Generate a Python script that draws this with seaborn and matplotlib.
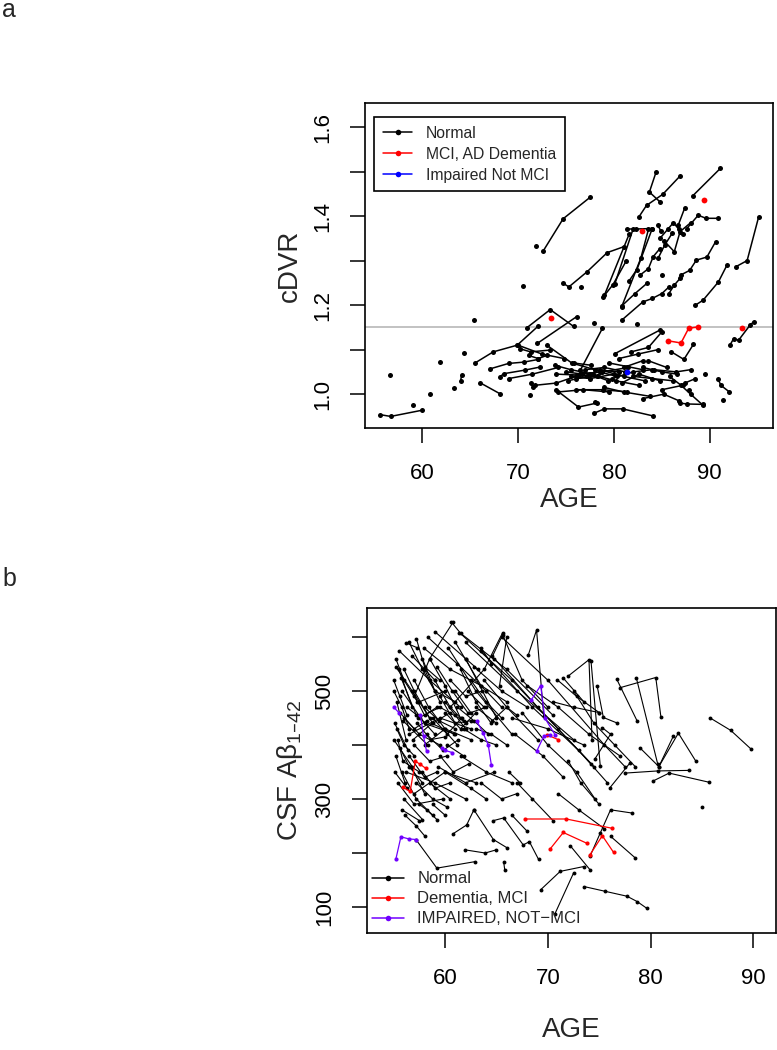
import matplotlib
matplotlib.use('Agg')
import matplotlib.pyplot as plt
from matplotlib.lines import Line2D
import seaborn as sns
import pandas as pd

# ---- panel a : cDVR by age, one list per subject ----
a_norm_age = [
    [72.6, 74.7, 77.5], [71.9], [84.4, 83.7, 84.8], [82.6, 83.4, 85.1, 86.9],
    [88.2, 91.1], [86.7, 87.4], [87.6, 88.8, 89.6, 90.9], [81.4, 82.3, 84.0],
    [84.6, 84.9], [80.1, 82.0], [79.0, 81.6], [80.8, 82.8, 83.6],
    [84.0, 82.4, 81.6], [84.8, 85.6, 86.2, 86.8, 87.2], [85.2, 86.3, 86.9, 88.0],
    [84.6, 85.3, 86.1], [85.0], [82.7, 83.6, 84.1, 84.8], [80.8, 82.2, 83.5],
    [80.8, 83.0, 84.0, 85.0, 85.7], [85.7, 86.3, 86.9], [88.5, 89.3, 90.9, 91.8],
    [92.7, 93.9, 95.1], [87.0, 87.9, 88.6, 89.7, 90.6], [74.7, 75.3, 77.2, 79.3, 81.0],
    [76.6], [78.9, 79.9, 81.3], [82.4], [92.1, 92.5, 93.0, 94.2, 94.6], [70.5],
    [65.4], [70.9, 73.35, 75.8], [65.5, 67.4, 69.9, 72.1], [72.0, 76.1], [77.9],
    [78.8, 76.5], [84.8, 80.1], [86.0, 87.3, 88.3], [55.6, 56.7, 60.0], [59.0],
    [56.6], [60.8], [61.8], [63.3], [64.3], [64.1, 64.0], [66.0, 68.1],
    [67.1, 69.0, 70.6, 72.1], [68.1, 68.5, 70.7, 72.3], [70.2, 71.3, 73.3],
    [71.1, 72.1, 73.0], [71.3, 71.6], [71.2], [74.0, 76.3, 78.2], [74.0, 76.2, 78.3],
    [89.5], [90.9, 91.15, 92.05], [91.4], [87.8], [87.4, 88.5], [86.9, 87.6, 89.3],
    [77.9, 79.0, 80.9, 84.1], [78.0], [73.8, 75.5, 77.8], [75.0, 76.7, 78.5, 80.3],
    [76.0, 78.2, 79.4], [77.0, 79.0, 81.2], [79.5, 81.4, 83.0], [80.5, 82.5, 84.6],
    [81.8, 83.6, 85.0], [82.0, 84.0, 86.2], [83.0, 85.0, 86.6], [83.6, 85.5],
    [84.2, 86.5, 88.0], [79.0, 81.0, 83.8], [74.2, 76.8, 79.5], [76.0, 78.9, 81.4],
    [85.8, 87.0, 88.0, 89.3], [69.0, 71.5, 74.2], [70.0, 72.5, 74.8],
    [71.8, 74.0, 76.0], [73.0, 75.6, 78.0, 80.5], [77.5, 80.2, 82.6],
    [80.8, 82.6, 84.8], [85.0, 87.2], [83.0, 85.2, 86.8], [75.8, 77.6],
    [75.5, 77.5, 80.0], [76.5, 78.8, 81.5], [75.2, 77.2], [78.5, 81.0, 83.2],
    [81.0, 83.0], [79.8, 82.0, 84.0],
]
a_norm_cdvr = [
    [1.321, 1.394, 1.442], [1.333], [1.499, 1.454, 1.432], [1.398, 1.424, 1.449, 1.490],
    [1.445, 1.507], [1.379, 1.419], [1.372, 1.402, 1.395, 1.395], [1.371, 1.371, 1.372],
    [1.379, 1.366], [1.248, 1.371], [1.222, 1.360], [1.196, 1.305, 1.370],
    [1.372, 1.280, 1.255], [1.350, 1.370, 1.385, 1.370, 1.360], [1.345, 1.320, 1.365, 1.385],
    [1.305, 1.335, 1.362], [1.267], [1.267, 1.282, 1.309, 1.327], [1.198, 1.226, 1.250],
    [1.166, 1.207, 1.215, 1.226, 1.240], [1.225, 1.245, 1.260], [1.200, 1.211, 1.252, 1.290],
    [1.286, 1.300, 1.398], [1.268, 1.278, 1.301, 1.308, 1.342], [1.249, 1.241, 1.275, 1.318, 1.331],
    [1.241], [1.219, 1.246, 1.300], [1.158], [1.110, 1.125, 1.121, 1.155, 1.163], [1.243],
    [1.166], [1.149, 1.190, 1.152], [1.070, 1.095, 1.110, 1.153], [1.114, 1.174], [1.160],
    [1.148, 1.054], [1.144, 1.091], [1.095, 1.078, 1.112], [0.954, 0.950, 0.964], [0.975],
    [1.042], [1.001], [1.072], [1.013], [1.093], [1.043, 1.030], [1.026, 1.001],
    [1.057, 1.069, 1.072, 1.078], [1.039, 1.046, 1.054, 1.061], [1.102, 1.095, 1.099],
    [1.087, 1.080, 1.087], [1.025, 1.015], [0.998], [1.009, 0.971, 0.980], [1.045, 1.043, 1.040],
    [1.046], [1.033, 1.020, 1.005], [0.988], [1.009], [1.025, 1.035], [0.980, 0.978, 0.977],
    [0.957, 0.967, 0.967, 0.951], [0.983], [1.065, 1.055, 1.045], [1.050, 1.045, 1.050, 1.040],
    [1.035, 1.040, 1.030], [1.055, 1.060, 1.050], [1.070, 1.062, 1.055], [1.080, 1.090, 1.100],
    [1.095, 1.105, 1.140], [1.040, 1.035, 1.030], [1.060, 1.050, 1.045], [1.075, 1.060],
    [1.055, 1.050, 1.055], [1.015, 1.005, 0.995], [1.005, 1.010, 1.005], [1.010, 1.010, 1.005],
    [1.040, 1.020, 1.000, 0.975], [1.035, 1.045, 1.060], [1.110, 1.090, 1.080],
    [1.020, 1.025, 1.040], [1.110, 1.070, 1.055, 1.050], [1.045, 1.030, 1.020],
    [1.025, 1.045, 1.030], [1.010, 1.020], [0.990, 1.000, 0.985], [1.070, 1.065],
    [1.040, 1.035, 1.045], [1.045, 1.050, 1.060], [1.030, 1.040], [1.055, 1.040, 1.030],
    [1.060, 1.075], [1.035, 1.050, 1.055],
]
a_mci_age = [[89.4], [82.9], [93.4], [85.6, 87.0, 87.8, 88.8], [73.4]]
a_mci_cdvr = [[1.436], [1.366], [1.148], [1.120, 1.115, 1.148, 1.151], [1.170]]
a_imp_age = [[81.4]]
a_imp_cdvr = [[1.049]]
cdvr_cut = 1.15

# ---- panel b : CSF Abeta 1-42 by age ----
b_norm_age = [
    [85.8, 87.8, 89.8], [85.0], [77.0, 80.5, 81.0], [76.7, 78.7], [78.6, 80.7],
    [72.0, 74.0, 74.3], [74.2, 75.1], [68.1, 68.9, 69.6], [74.8, 75.4, 76.7],
    [75.3, 76.1, 74.6], [79.0, 80.8, 82.2], [80.8, 82.7, 84.4], [77.5, 80.7, 83.7],
    [80.2, 81.8, 85.7], [78.0, 76.0], [78.2, 76.1, 75.1, 74.1], [72.2, 74.1],
    [73.5, 75.6, 77.7, 78.7, 79.6], [69.3, 71.2, 73.5], [72.5, 70.7], [76.1, 78.5],
    [70.9, 72.8, 75.0], [71.5, 73.5], [64.6, 65.6, 67.5, 70.0],
    [60.6, 61.5, 66.0, 70.5], [61.4, 66.5, 71.0, 74.5], [62.0, 67.0, 72.5],
    [63.5, 68.5, 73.0, 75.8], [64.8, 69.0, 74.2], [65.5, 70.0, 75.5, 77.5],
    [66.0, 65.3], [65.6, 63.8, 60.5], [60.8, 58.5, 57.0],
    [55.2, 56.0, 57.3], [55.5, 56.8], [55.0, 55.8, 56.5], [55.3, 56.2],
    [55.6, 57.0, 58.2], [55.1, 56.4], [55.4, 55.9, 57.5], [55.2, 56.1],
    [55.8, 57.2, 58.8], [56.0, 57.8], [56.5, 57.8, 59.0], [57.2, 58.0, 59.5],
    [56.2, 57.3], [57.0, 58.4, 60.0], [56.8, 58.0, 59.2], [57.5, 58.8, 60.5],
    [56.0, 57.5, 59.5], [57.8, 59.0, 61.0], [58.0, 59.5], [58.5, 60.0, 61.5],
    [59.0, 60.5, 62.0], [59.5, 61.0, 62.5], [60.0, 61.5, 63.0], [59.8, 61.2],
    [58.2, 59.8, 61.3], [57.0, 58.5, 60.2], [56.5, 58.0, 59.2], [57.8, 59.0, 60.5],
    [58.5, 60.5], [59.5, 60.8, 62.3], [61.0, 62.5, 64.0], [61.5, 63.0, 64.5],
    [62.5, 64.0, 65.5], [63.0, 65.0], [61.8, 63.5, 65.0], [62.0, 63.2], [63.5, 64.5],
    [60.2, 61.8], [58.8, 60.0], [57.5, 58.2, 59.2],
    [55.0, 55.6, 56.3], [55.3, 56.0, 57.0], [55.6, 56.5, 57.8], [55.1, 56.3],
    [56.0, 57.0, 58.5], [56.3, 57.6, 59.0], [57.3, 58.6, 60.0], [58.0, 59.4, 61.0],
    [58.8, 60.2, 61.6], [59.2, 60.7, 62.2], [60.5, 62.0, 63.6], [60.0, 61.0, 62.0],
    [61.2, 62.8, 64.2], [62.2, 63.8], [56.7, 58.0], [57.2, 58.8, 60.2], [55.8, 57.5],
    [56.1, 57.2, 58.0], [63.0, 64.5, 66.0], [64.0, 65.5],
    [55.5, 58.5, 61.5], [55.2, 57.5, 60.0], [55.8, 58.0, 61.0], [56.5, 59.5, 62.5],
    [55.9, 58.3], [56.2, 59.0, 62.0], [57.0, 60.0, 63.0], [55.4, 57.0, 59.8],
    [57.9, 60.5, 63.5], [58.3, 61.2, 64.0], [59.0, 62.0, 65.0], [60.3, 63.0, 66.5],
    [56.8, 59.0], [58.0, 60.0, 62.5], [59.3, 62.0, 64.8], [57.4, 59.5, 61.8],
    [62.8, 65.5, 68.0], [63.8, 66.0, 69.0], [61.0, 63.5, 66.0], [55.0, 56.8],
    [55.7, 57.2], [56.9, 58.7, 60.9],
    [57.2, 59.2, 62.9], [60.8, 62.1, 62.8], [61.9, 63.9, 65.0], [65.7, 65.8],
    [64.7, 65.7, 67.6, 68.2, 69.1], [62.8, 64.7, 66.0], [67.0, 68.5, 70.5], [66.5, 68.0],
    [63.5, 65.5, 67.0], [61.5, 64.0, 66.5], [60.0, 62.5, 64.0], [66.8, 69.5, 71.5],
    [67.5, 70.0, 72.8, 74.6], [71.0, 73.0, 75.5], [72.0, 73.2, 75.0], [66.2, 67.3],
    [64.6, 66.0, 67.0], [70.5, 72.5, 75.0], [68.0, 71.0, 74.0, 77.0], [66.5, 70.0, 73.5],
    [72.5, 74.5, 76.5, 78.5],
]
b_norm_csf = [
    [450, 427, 392], [286], [506, 525, 452], [522, 444], [525, 364],
    [528, 558, 410], [555, 361], [567, 613, 453], [509, 451, 441],
    [432, 420, 375], [394, 360, 416], [360, 422, 370], [348, 352, 353],
    [333, 348, 331], [367, 320], [274, 280, 237, 194], [213, 169],
    [138, 129, 120, 110, 98], [132, 166, 175], [163, 88], [231, 191],
    [521, 490, 460], [524, 480], [564, 604, 520, 470],
    [628, 607, 540, 455], [608, 520, 430, 360], [590, 500, 410],
    [575, 470, 390, 330], [560, 470, 365], [600, 520, 400, 360],
    [600, 510], [608, 540, 470], [628, 560, 490],
    [560, 520, 480], [540, 470], [500, 470, 430], [480, 410],
    [460, 430, 445], [440, 390], [410, 370, 350], [380, 330],
    [350, 300, 270], [300, 262], [590, 540, 500], [597, 545, 520],
    [589, 580], [520, 470, 430], [500, 455, 470], [480, 440, 460],
    [450, 420, 400], [560, 500, 480], [540, 480], [560, 510, 450],
    [520, 470, 440], [490, 440, 445], [460, 430, 460], [430, 400],
    [420, 390, 410], [400, 370, 380], [380, 340, 350], [350, 320, 330],
    [330, 300], [380, 350, 365], [500, 460, 470], [540, 480, 440],
    [520, 480, 450], [470, 440], [430, 410, 400], [560, 540], [580, 550],
    [400, 380], [290, 270], [290, 280, 262],
    [520, 490, 455], [430, 400, 380], [395, 360, 330], [350, 320],
    [540, 500, 450], [470, 450, 420], [440, 410, 415], [470, 445, 430],
    [450, 420, 450], [545, 500, 460], [520, 490, 500], [480, 455, 430],
    [470, 445, 420], [500, 470], [360, 310], [330, 300, 285], [280, 260],
    [270, 250, 232], [430, 420, 400], [500, 470],
    [575, 520, 470], [545, 480, 500], [500, 440, 420], [420, 450, 430],
    [445, 400], [350, 330, 300], [310, 350, 330], [330, 290, 300],
    [580, 540, 510], [600, 550, 500], [610, 560, 450], [580, 500, 420],
    [565, 520], [400, 430, 410], [360, 330, 350], [450, 470, 445],
    [545, 500, 470], [520, 470, 410], [590, 510, 480], [410, 360],
    [525, 455], [410, 440, 420],
    [224, 172, 184], [236, 252, 280], [206, 200, 206], [184, 169],
    [260, 265, 215, 221, 188], [280, 225, 210], [330, 300, 260], [270, 240],
    [330, 300, 310], [380, 350, 330], [350, 320, 300], [420, 380, 340],
    [460, 400, 350, 300], [310, 280, 245], [370, 330, 290], [350, 330],
    [445, 470, 455], [480, 470, 460], [510, 470, 420, 380], [450, 430, 400],
    [500, 440, 400, 360],
]
b_dem_age = [[55.9, 56.6, 57.1, 57.6, 58.1], [67.8, 71.8, 76.2], [70.2, 71.5, 73.8],
             [74.1, 75.3, 76.4], [69.9, 71.0]]
b_dem_csf = [[322, 314, 370, 364, 357], [263, 263, 246], [207, 238, 218],
             [197, 232, 201], [419, 410]]
b_imp_age = [[55.2, 55.7, 56.5, 57.2], [57.6, 57.9, 58.2], [55.0, 55.5],
             [59.7, 60.0, 60.7], [63.1, 63.7, 64.2, 64.5], [68.4, 69.3, 69.7, 70.7],
             [68.9, 69.6, 70.2]]
b_imp_csf = [[188, 230, 226, 225], [456, 416, 388], [470, 460],
             [394, 390, 386], [444, 422, 400, 363], [484, 510, 450, 419],
             [388, 416, 419]]


def long_table(ages, vals, group):
    rows = []
    for i, (aa, vv) in enumerate(zip(ages, vals)):
        for j, (x, y) in enumerate(zip(aa, vv)):
            rows.append((group + str(i), j, x, y))
    return pd.DataFrame(rows, columns=['subject', 'visit', 'age', 'value'])


def spaghetti(ax, df, color, lw, ms):
    sns.lineplot(data=df, x='age', y='value', units='subject', estimator=None,
                 sort=False, color=color, lw=lw, marker='o', markersize=ms,
                 markeredgewidth=0, legend=False, ax=ax)


sns.set_style('white')
plt.rcParams['font.family'] = ['Liberation Sans', 'DejaVu Sans']
plt.rcParams['mathtext.default'] = 'regular'

fig = plt.figure(figsize=(7.77, 10.5), dpi=100)
ax1 = fig.add_axes([365 / 777, 1 - 428 / 1050, 408 / 777, 325 / 1050])
ax2 = fig.add_axes([367 / 777, 1 - 933 / 1050, 409 / 777, 325 / 1050])

# panel a
ax1.axhline(cdvr_cut, color='#bdbdbd', lw=1.3, zorder=0)
spaghetti(ax1, long_table(a_norm_age, a_norm_cdvr, 'n'), 'black', 1.1, 3.6)
spaghetti(ax1, long_table(a_mci_age, a_mci_cdvr, 'm'), '#ff0000', 1.1, 4.2)
spaghetti(ax1, long_table(a_imp_age, a_imp_cdvr, 'i'), '#0000ff', 1.1, 4.2)
ax1.set_xlim(54.02, 96.6)
ax1.set_ylim(0.924, 1.654)
ax1.set_xticks([60, 70, 80, 90])
ax1.set_yticks([1.0, 1.1, 1.2, 1.3, 1.4, 1.5, 1.6])
ax1.set_yticklabels(['1.0', '', '1.2', '', '1.4', '', '1.6'], rotation=90, va='center')
ax1.set_xlabel('AGE', fontsize=20)
ax1.set_ylabel('cDVR', fontsize=20)
ax1.xaxis.set_label_coords(0.5, -0.2215)
ax1.xaxis.label.set_va('center')
ax1.yaxis.set_label_coords(-0.184, 0.5)
ax1.yaxis.label.set_va('center')
h1 = [Line2D([0], [0], color=c, lw=1.1, marker='o', markersize=4, markeredgewidth=0)
      for c in ['black', '#ff0000', '#0000ff']]
leg1 = ax1.legend(h1, ['Normal', 'MCI, AD Dementia', 'Impaired Not MCI'],
                  loc='upper left', bbox_to_anchor=(0.022, 0.957), fontsize=11.3,
                  frameon=True, fancybox=False, framealpha=1, edgecolor='black',
                  handlelength=1.9, handletextpad=0.85, labelspacing=0.38,
                  borderpad=0.55, borderaxespad=0)
leg1.get_frame().set_linewidth(1.2)

# panel b
spaghetti(ax2, long_table(b_norm_age, b_norm_csf, 'n'), 'black', 0.8, 2.8)
spaghetti(ax2, long_table(b_dem_age, b_dem_csf, 'd'), '#ff0000', 0.9, 3.0)
spaghetti(ax2, long_table(b_imp_age, b_imp_csf, 'i'), '#7000ff', 0.9, 3.0)
ax2.set_xlim(52.4, 92.2)
ax2.set_ylim(51.9, 653.7)
ax2.set_xticks([60, 70, 80, 90])
ax2.set_yticks([100, 200, 300, 400, 500, 600])
ax2.set_yticklabels(['100', '', '300', '', '500', ''], rotation=90, va='center')
ax2.set_xlabel('AGE', fontsize=20)
ax2.set_ylabel('CSF Aβ$_{1\u201342}$', fontsize=20)
ax2.xaxis.set_label_coords(0.5, -0.298)
ax2.xaxis.label.set_va('center')
ax2.yaxis.set_label_coords(-0.188, 0.5)
ax2.yaxis.label.set_va('center')
h2 = [Line2D([0], [0], color=c, lw=1.1, marker='o', markersize=4, markeredgewidth=0)
      for c in ['black', '#ff0000', '#7000ff']]
ax2.legend(h2, ['Normal', 'Dementia, MCI', 'IMPAIRED, NOT\u2212MCI'],
           loc='lower left', bbox_to_anchor=(0.005, 0.01), fontsize=12,
           frameon=False, handlelength=1.9, handletextpad=0.8, labelspacing=0.3,
           borderpad=0.2, borderaxespad=0)

for ax in (ax1, ax2):
    for s in ax.spines.values():
        s.set_visible(True)
        s.set_color('black')
        s.set_linewidth(1.2)
    ax.tick_params(direction='out', length=11, width=1.1, labelsize=16,
                   color='black', labelcolor='black', left=True, bottom=True)
    ax.tick_params(axis='x', pad=14)
    ax.tick_params(axis='y', pad=12)

fig.text(2 / 777, 1 - 17 / 1050, 'a', fontsize=18, va='baseline', ha='left')
fig.text(2 / 777, 1 - 586 / 1050, 'b', fontsize=18, va='baseline', ha='left')

fig.savefig('out.png', dpi=100)
